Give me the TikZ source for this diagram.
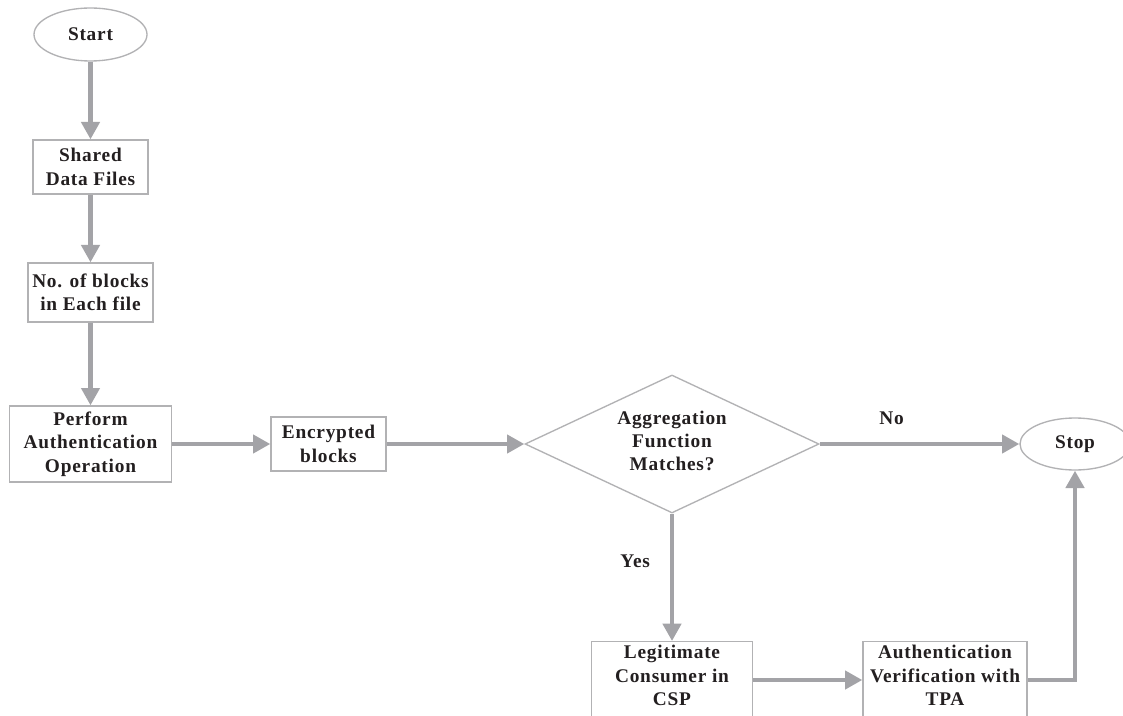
\documentclass[tikz,border=0pt]{standalone}
\usepackage{fontspec}
\setmainfont{Liberation Serif}[LetterSpace=4.0]
\usetikzlibrary{shapes.geometric,arrows.meta,calc}

\definecolor{linegray}{RGB}{163,163,167}
\definecolor{edgegray}{RGB}{178,178,180}
\definecolor{inkblack}{RGB}{35,31,32}

\tikzset{
  txt/.style={font=\fontsize{14.5pt}{17.5pt}\selectfont\bfseries, text=inkblack, align=center},
  box/.style={txt, draw=edgegray, line width=1pt, rectangle, inner sep=2pt},
  terminal/.style={txt, draw=edgegray, line width=1pt, ellipse, inner sep=0pt},
  decision/.style={txt, draw=edgegray, line width=1pt, diamond, aspect=2.13, inner sep=0pt},
  flow/.style={draw=linegray, line width=3.2pt, -{Triangle[length=13pt,width=13.5pt]}},
  tag/.style={txt, inner sep=0pt},
}

\begin{document}
\begin{tikzpicture}[x=0.75pt, y=-0.75pt]
  \fill[white] (0,0) rectangle (1123,716);
  \useasboundingbox (0,0) rectangle (1123,716);
  \clip (0,0) rectangle (1123,716);

  % left column
  \node[terminal, minimum width=84.75pt, minimum height=39.75pt] (start) at (90.5,34.5) {Start};
  \node[box, minimum width=86.25pt, minimum height=40.5pt] (shared) at (90.5,167) {Shared\\Data Files};
  \node[box, minimum width=93.75pt, minimum height=44.25pt] (nblocks) at (90.5,292.5) {No. of blocks\\in Each file};
  \node[box, minimum width=121.5pt, minimum height=57pt] (perform) at (90.5,444) {Perform\\Authentication\\Operation};

  % middle row
  \node[box, minimum width=86.25pt, minimum height=40.5pt] (enc) at (328.5,444) {Encrypted\\blocks};
  \node[decision, minimum width=220.5pt, minimum height=103.5pt] (agg) at (672,444) {};
  \node[tag] (agg-t) at (672,441) {Aggregation\\Function\\Matches?};
  \node[terminal, minimum width=82.5pt, minimum height=39pt] (stop) at (1075,444) {Stop};

  % bottom row (boxes run past the lower edge)
  \node[box, minimum width=120.75pt, minimum height=75pt, anchor=north] (legit) at (672,641) {};
  \node[tag, anchor=north] (legit-t) at ([yshift=-3pt]legit.north) {Legitimate\\Consumer in\\CSP};
  \node[box, minimum width=123pt, minimum height=75pt, anchor=north] (auth) at (945,641) {};
  \node[tag, anchor=north] (auth-t) at ([yshift=-3pt]auth.north) {Authentication\\Verification with\\TPA};
  \coordinate (row) at (0,680);

  % connectors
  \draw[flow] (start) -- (shared);
  \draw[flow] (shared) -- (nblocks);
  \draw[flow] (nblocks) -- (perform);
  \draw[flow] (perform) -- (enc);
  \draw[flow] (enc) -- (agg);
  \draw[flow] (agg) -- node[tag, pos=0.36, above=13pt] (no-lbl) {No} (stop);
  \draw[flow] (agg.south) -- node[tag, pos=0.37, left=15pt] (yes-lbl) {Yes} (legit.north);
  \draw[flow] (legit.east |- row) -- (auth.west |- row);
  \draw[flow] (auth.east |- row) -| (stop.south);
\end{tikzpicture}
\end{document}
